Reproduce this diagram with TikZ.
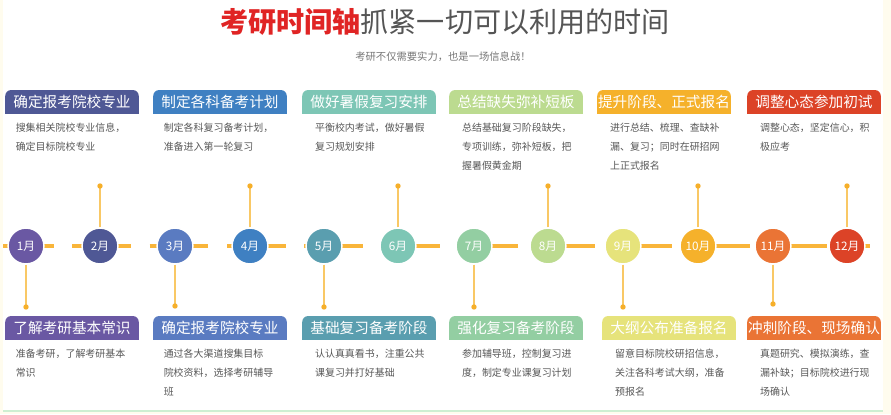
\documentclass[tikz,border=0pt]{standalone}
\usepackage{fontspec}
\setmainfont{Noto Sans CJK SC}
\usetikzlibrary{positioning,backgrounds}

\definecolor{c1}{HTML}{6A58A3}
\definecolor{c2}{HTML}{4F5895}
\definecolor{c3}{HTML}{5A7BC1}
\definecolor{c4}{HTML}{3F80C2}
\definecolor{c5}{HTML}{5A9EAF}
\definecolor{c6}{HTML}{7DC6B5}
\definecolor{c7}{HTML}{93CEA2}
\definecolor{c8}{HTML}{BCDB90}
\definecolor{c9}{HTML}{E6E37B}
\definecolor{c10}{HTML}{F5B12B}
\definecolor{c11}{HTML}{EA7435}
\definecolor{c12}{HTML}{DC4327}
\definecolor{lineorange}{HTML}{F9B53A}
\definecolor{stemorange}{HTML}{F9C865}
\definecolor{dotorange}{HTML}{F6AF2A}
\definecolor{titlered}{HTML}{E02424}
\definecolor{titlegray}{HTML}{555555}
\definecolor{subgray}{HTML}{777777}
\definecolor{txtgray}{HTML}{585858}
\definecolor{cream}{HTML}{FFFCEE}
\definecolor{greenline}{HTML}{CDEFD2}

\tikzset{
  month/.style={circle, draw=white, line width=1.2pt, minimum size=30.6pt, inner sep=0pt,
    text=white, font=\fontsize{10}{12}\selectfont},
  head/.style={minimum width=114pt, minimum height=20.4pt, inner xsep=0pt, inner ysep=0pt,
    text=white, rounded corners=5pt, font=\fontsize{12.5}{14}\selectfont},
  body/.style={inner sep=0pt, align=left, text=txtgray, font=\fontsize{8.5}{16.6}\selectfont},
  dot/.style={circle, fill=dotorange, inner sep=0pt, minimum size=4.6pt},
  stem/.style={draw=stemorange, line width=1.3pt},
  timeline/.style={draw=lineorange, line width=3.4pt, dash pattern=on 50.2pt off 15.8pt, dash phase=6.8pt}
}

\begin{document}
\begin{tikzpicture}[x=0.03cm, y=-0.03cm]
        \useasboundingbox (0,0) rectangle (891,414);

        % title
        \node[font=\fontsize{24}{27}\selectfont, text=titlegray] (title) at (445,22)
          {{\color{titlered}\bfseries 考研时间轴}抓紧一切可以利用的时间};
        \node[font=\fontsize{8.8}{10}\selectfont, text=subgray] (subtitle) at (443,57)
          {考研不仅需要实力，也是一场信息战！};

        % time axis
        \coordinate (tl) at (3,246);
        \coordinate (tr) at (870,246);
        \draw[timeline] (tl) -- (tr);

        \foreach \m/\x in {1/26,2/100,3/175,4/250,5/324,6/398,7/474,8/548,9/623,10/698,11/773,12/847}
          \node[month, fill=c\m] (m\m) at (\x,246) {\m{}月};

        \foreach \m/\x/\y in {2/100/186,4/250/186,6/398/186,8/548/186,10/698/186,12/847/186,
                              1/26/307,3/175/306,5/324/307,7/474/307,9/623/307,11/773/304} {
          \draw[stem] (m\m) -- (\x,\y);
          \node[dot] (d\m) at (\x,\y) {};
        }

        % upper boxes
        \node[head, fill=c2] (h2) at (72,102) {确定报考院校专业};
        \node[head, fill=c4] (h4) at (220,102) {制定各科备考计划};
        \node[head, fill=c6] (h6) at (369,102) {做好暑假复习安排};
        \node[head, fill=c8] (h8) at (516,102) {总结缺失弥补短板};
        \node[head, fill=c10] (h10) at (664,102) {提升阶段、正式报名};
        \node[head, fill=c12] (h12) at (814,102) {调整心态参加初试};

        % lower boxes
        \node[head, fill=c1] (h1) at (72,328) {了解考研基本常识};
        \node[head, fill=c3] (h3) at (220,328) {确定报考院校专业};
        \node[head, fill=c5] (h5) at (369,328) {基础复习备考阶段};
        \node[head, fill=c7] (h7) at (516,328) {强化复习备考阶段};
        \node[head, fill=c9] (h9) at (669,328) {大纲公布准备报名};
        \node[head, fill=c11] (h11) at (814,328) {冲刺阶段、现场确认};

        \node[body, below right=7pt and 9pt of h2.south west] (t2) {搜集相关院校专业信息，\\确定目标院校专业};
        \node[body, below right=7pt and 9pt of h4.south west] (t4) {制定各科复习备考计划，\\准备进入第一轮复习};
        \node[body, below right=7pt and 11pt of h6.south west] (t6) {平衡校内考试，做好暑假\\复习规划安排};
        \node[body, below right=7pt and 11pt of h8.south west] (t8) {总结基础复习阶段缺失，\\专项训练，弥补短板，把\\握暑假黄金期};
        \node[body, below right=7pt and 11pt of h10.south west] (t10) {进行总结、梳理、查缺补\\漏、复习；同时在研招网\\上正式报名};
        \node[body, below right=7pt and 11pt of h12.south west] (t12) {调整心态，坚定信心，积\\极应考};

        \node[body, below right=7pt and 9pt of h1.south west] (t1) {准备考研，了解考研基本\\常识};
        \node[body, below right=7pt and 9pt of h3.south west] (t3) {通过各大渠道搜集目标\\院校资料，选择考研辅导\\班};
        \node[body, below right=7pt and 11pt of h5.south west] (t5) {认认真真看书，注重公共\\课复习并打好基础};
        \node[body, below right=7pt and 11pt of h7.south west] (t7) {参加辅导班，控制复习进\\度，制定专业课复习计划};
        \node[body, below right=7pt and 11pt of h9.south west] (t9) {留意目标院校研招信息，\\关注各科考试大纲，准备\\预报名};
        \node[body, below right=7pt and 11pt of h11.south west] (t11) {真题研究、模拟演练，查\\漏补缺；目标院校进行现\\场确认};

        % page and square lower corners, behind everything
        \begin{pgfonlayer}{background}
          \fill[cream] (0,0) rectangle (891,414);
          \fill[white] (3,0) rectangle (883,411);
          \draw[greenline, line width=1pt] (3,411) -- (883,411);
          \foreach \m in {1,...,12}
            \fill[c\m] (h\m.west) rectangle (h\m.south east);
        \end{pgfonlayer}
    \end{tikzpicture}
\end{document}
